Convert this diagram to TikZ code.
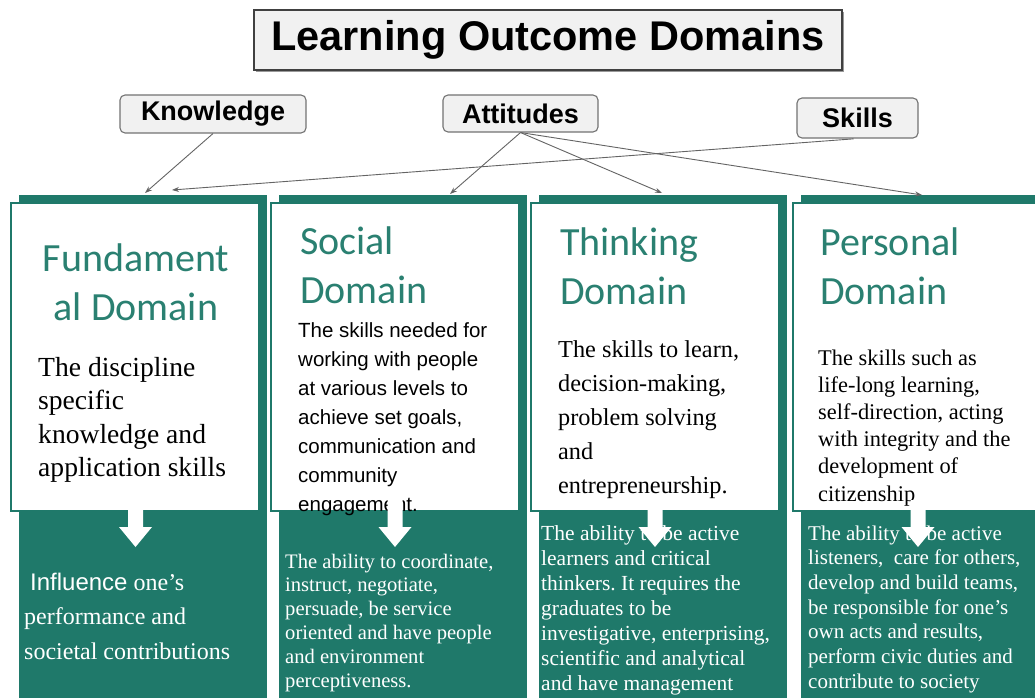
\documentclass[tikz,border=0pt]{standalone}
\usepackage{fontspec}
\setmainfont{Liberation Serif}
\newfontfamily\arialf{Liberation Sans}
\newfontfamily\calibf{Carlito}
\usetikzlibrary{arrows.meta,shadows}
\definecolor{tealdark}{RGB}{31,121,106}
\definecolor{tealhead}{RGB}{42,128,113}
\definecolor{boxgray}{RGB}{241,241,241}
\definecolor{linegray}{RGB}{100,100,100}
\frenchspacing
\newcommand\fsz[2]{\fontsize{#1pt}{#2pt}\selectfont}
% white block arrow pointing down: centre x, top y of the shaft
\newcommand\downarr[2]{\fill[white] (#1-7.5,#2) -- (#1+7.5,#2) -- (#1+7.5,527) -- (#1+16.5,527) -- (#1,547) -- (#1-16.5,527) -- (#1-7.5,527) -- cycle;}
\begin{document}
\begin{tikzpicture}[x=1pt,y=-1pt,
  titlebox/.style={draw=black!75, line width=1.6pt, fill=boxgray, minimum width=588pt, minimum height=60pt, inner sep=0pt,
    font=\arialf\bfseries\fsz{41.5}{48}, drop shadow={shadow xshift=2pt, shadow yshift=-2pt, fill=black!40, opacity=1}},
  tagbox/.style={draw=black!55, line width=1.1pt, fill=boxgray, rounded corners=5pt, inner sep=0pt,
    font=\arialf\bfseries\fsz{27}{32}},
  back/.style={fill=tealdark, inner sep=0pt, minimum width=248pt, minimum height=503pt, anchor=north west},
  card/.style={draw=tealdark, line width=1.5pt, fill=white, inner sep=0pt, minimum width=248pt, minimum height=308pt, anchor=north west},
  head/.style={inner sep=0pt, text=tealhead, font=\calibf\fsz{40}{49}},
  txt/.style={anchor=base west, inner sep=0pt},
  link/.style={draw=linegray, line width=0.9pt, -{Stealth[length=7pt,width=5pt]}},
]
\useasboundingbox (0,0) rectangle (1035,698);
\clip (0,0) rectangle (1035,698);
\fill[white] (0,0) rectangle (1035,698);

% title and the three source labels
\node[titlebox] (title) at (548,40) {Learning Outcome Domains};
\node[tagbox, minimum width=186pt, minimum height=38pt] (know) at (213,114) {Knowledge};
\node[tagbox, minimum width=155pt, minimum height=37pt] (att) at (520.5,113.5) {Attitudes};
\node[tagbox, minimum width=121pt, minimum height=40pt] (skills) at (857.5,118) {Skills};

% teal backing panels and white cards
\node[back] (b1) at (19,195) {};
\node[back] (b2) at (279,195) {};
\node[back] (b3) at (539,195) {};
\node[back] (b4) at (801,195) {};
\node[card] (c1) at (10,202) {};
\node[card] (c2) at (270,202) {};
\node[card] (c3) at (530,202) {};
\node[card] (c4) at (792,202) {};

% domain headings
\node[head, anchor=base] (h1) at (136,271) {\parbox[t]{260pt}{\centering Fundament\\al Domain}};
\node[head, anchor=base west] (h2) at (300,254) {\parbox[t]{250pt}{Social\\Domain}};
\node[head, anchor=base west] (h3) at (560,255) {\parbox[t]{250pt}{Thinking\\Domain}};
\node[head, anchor=base west] (h4) at (820,255) {\parbox[t]{250pt}{Personal\\Domain}};

% card descriptions
\node[txt] (d1) at (38,376) {\parbox[t]{300pt}{\fsz{27.6}{33.5}\raggedright
  The discipline\\specific\\knowledge and\\application skills}};
\node[txt] (d2) at (298,337) {\parbox[t]{300pt}{\arialf\fsz{20.5}{29}\raggedright
  The skills needed for\\working with people\\at various levels to\\achieve set goals,\\communication and\\community\\engagement.}};
\node[txt] (d3) at (558,357) {\parbox[t]{300pt}{\fsz{24.3}{34}\raggedright
  The skills to learn,\\decision-making,\\problem solving\\and\\entrepreneurship.}};
\node[txt] (d4) at (818,365) {\parbox[t]{300pt}{\fsz{22.4}{27.2}\raggedright
  The skills such as\\life-long learning,\\self-direction, acting\\with integrity and the\\development of\\citizenship}};

% outcomes on the teal panels
\node[txt, text=white] (o1) at (24,590) {\parbox[t]{300pt}{\fsz{24}{34.5}\raggedright
  \hspace*{6pt}{\arialf Influence} one’s\\performance and\\societal contributions}};
\node[txt, text=white] (o2) at (285,568) {\parbox[t]{300pt}{\fsz{20.6}{23.8}\raggedright
  The ability to coordinate,\\instruct, negotiate,\\persuade, be service\\oriented and have people\\and environment\\perceptiveness.}};
\node[txt, text=white] (o3) at (541,540) {\parbox[t]{300pt}{\fsz{21.5}{25}\raggedright
  The ability to be active\\learners and critical\\thinkers. It requires the\\graduates to be\\investigative, enterprising,\\scientific and analytical\\and have management}};
\node[txt, text=white] (o4) at (808,540) {\parbox[t]{300pt}{\fsz{21}{24.7}\raggedright
  The ability to be active\\listeners,~ care for others,\\develop and build teams,\\be responsible for one’s\\own acts and results,\\perform civic duties and\\contribute to society}};

% white down arrows from each card into its panel
\downarr{135.5}{508}
\downarr{395}{498}
\downarr{655}{508}
\downarr{918}{500}

% connectors from the source labels to the domains
\coordinate (k1) at (145,193);
\coordinate (s1) at (172,190);
\coordinate (a2) at (450,194);
\coordinate (a3) at (662,193);
\coordinate (a4) at (922,195);
\draw[link] (know.south) -- (k1);
\draw[link, shorten <=4pt] (skills.south) -- (s1);
\draw[link] (att.south) -- (a2);
\draw[link] (att.south) -- (a3);
\draw[link] (att.south) -- (a4);
\end{tikzpicture}
\end{document}
